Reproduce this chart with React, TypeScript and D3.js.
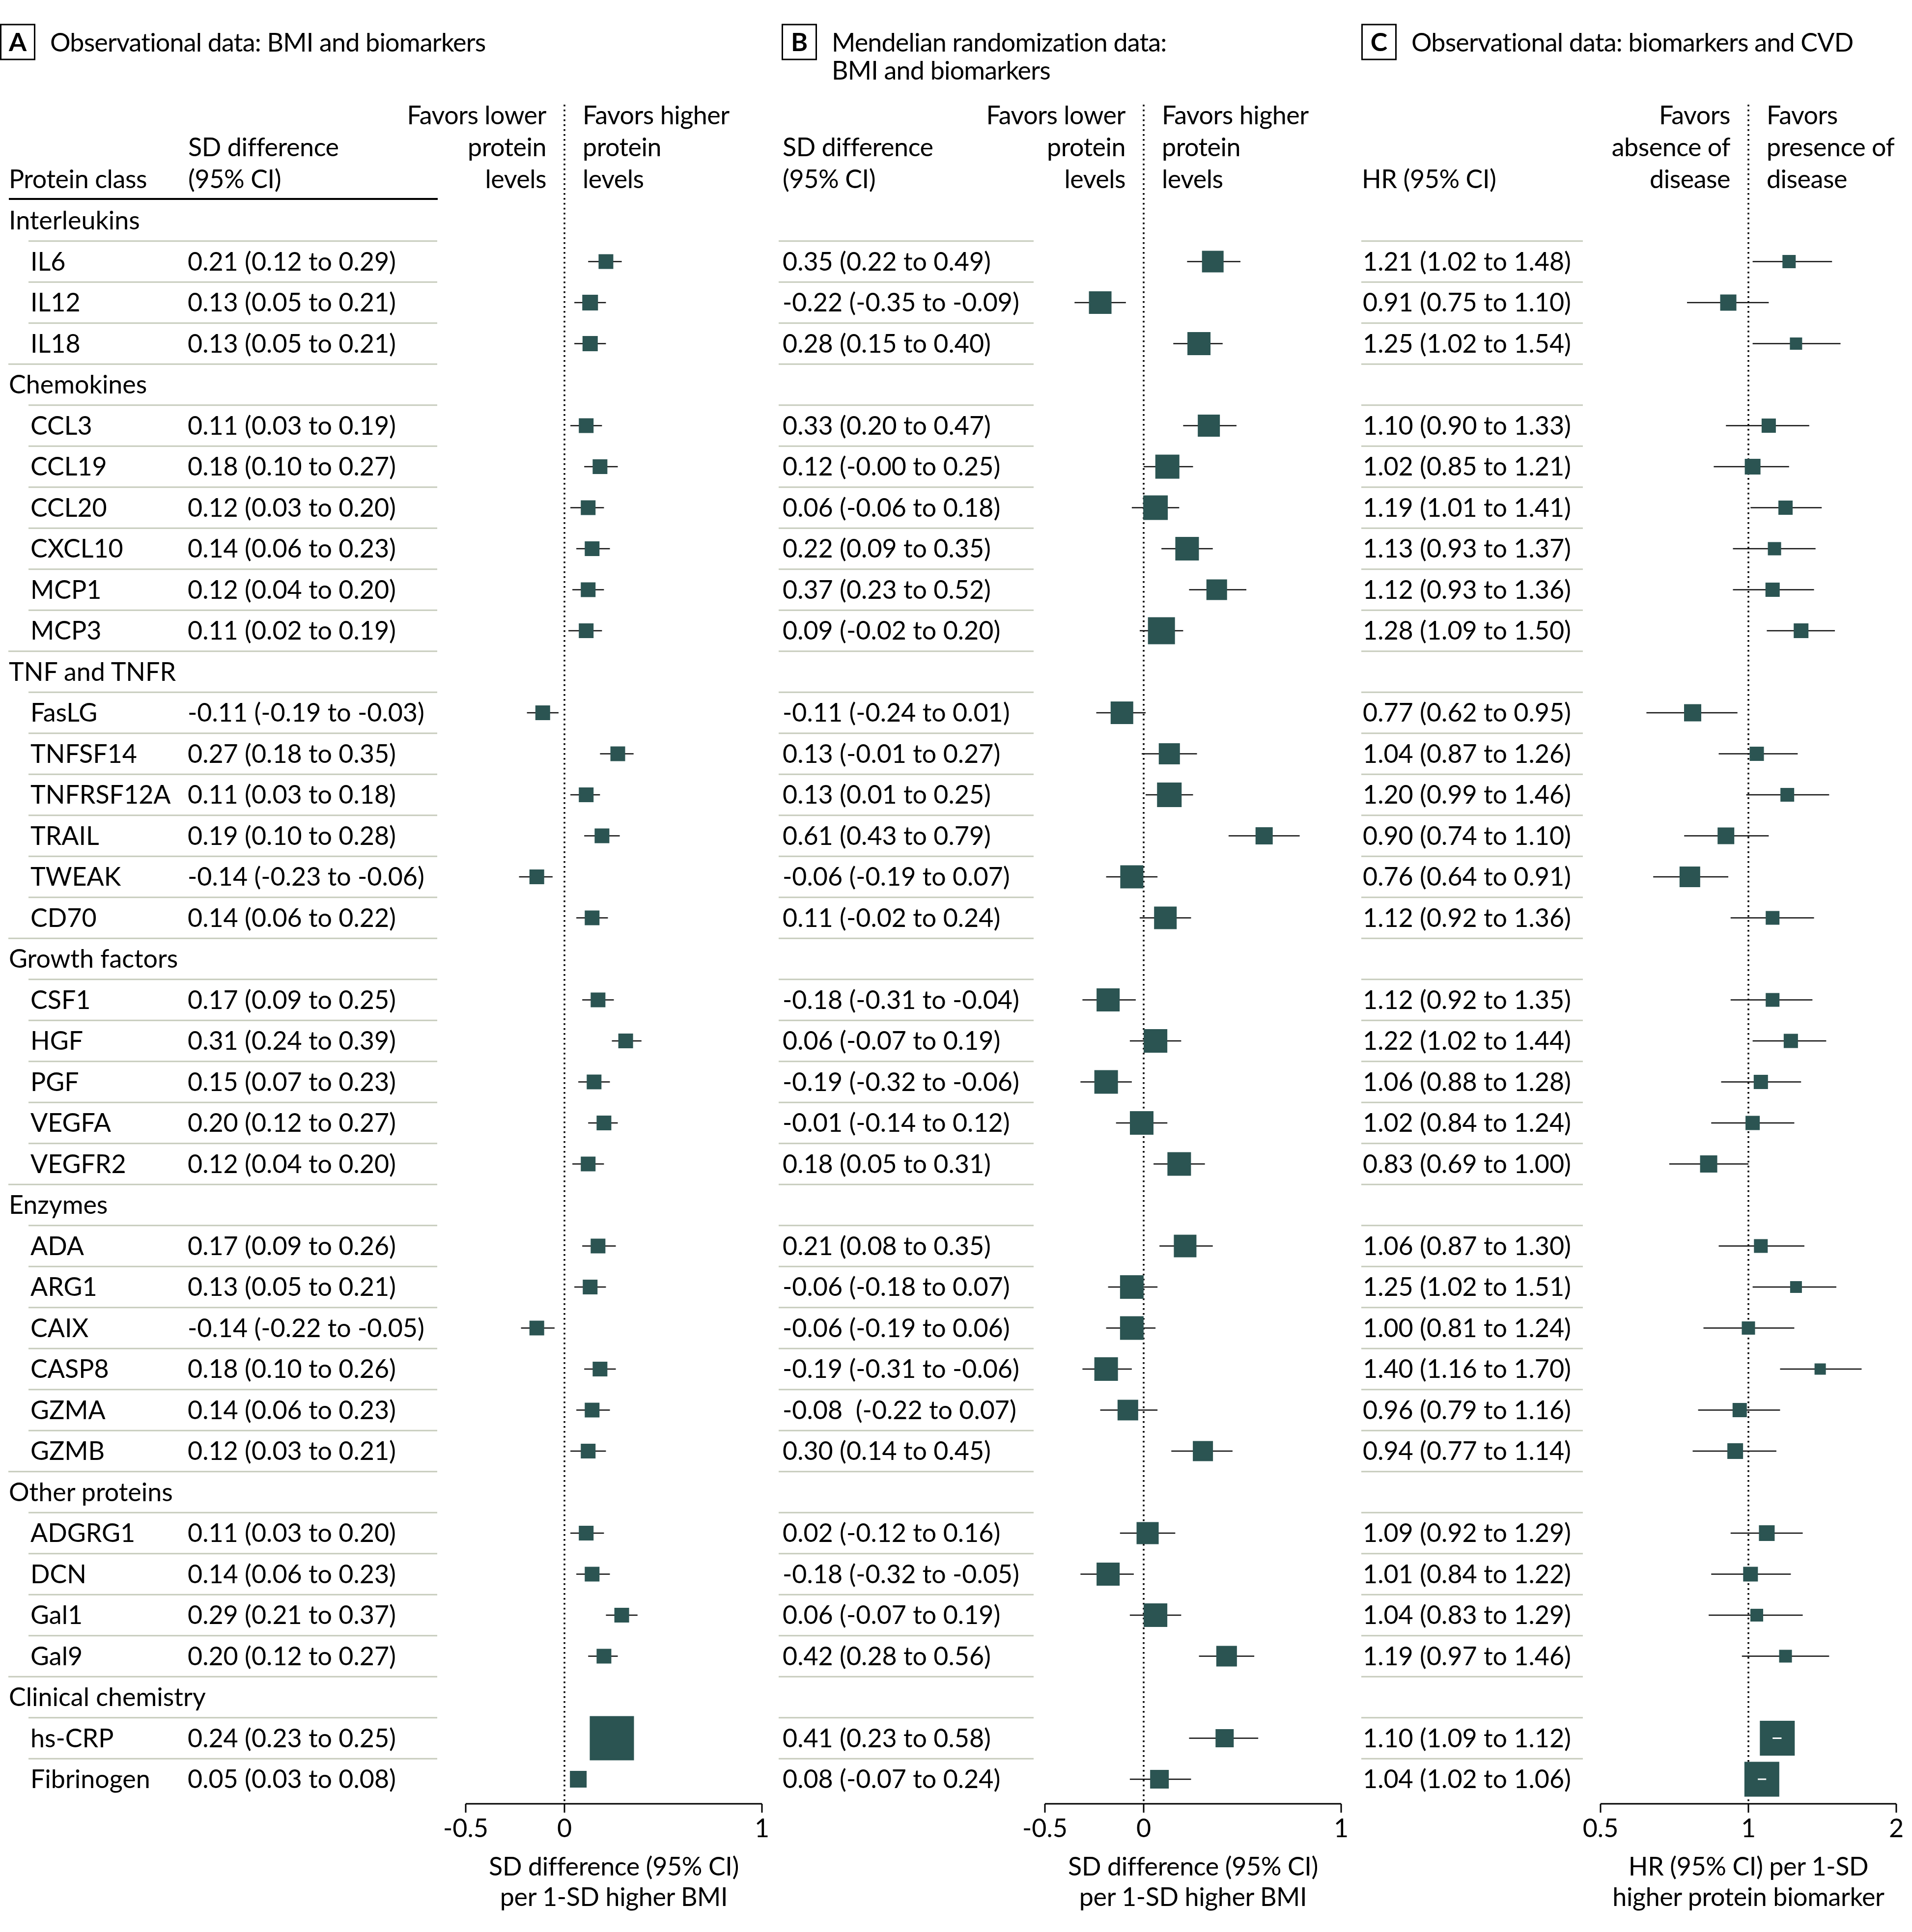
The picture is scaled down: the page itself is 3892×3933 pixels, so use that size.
import React from "react";
import * as d3 from "d3";

// ---------- DATA ----------
const groupNames = ["Interleukins", "Chemokines", "TNF and TNFR", "Growth factors", "Enzymes", "Other proteins", "Clinical chemistry"];

const proteins = ["IL6", "IL12", "IL18", "CCL3", "CCL19", "CCL20", "CXCL10", "MCP1", "MCP3", "FasLG", "TNFSF14", "TNFRSF12A", "TRAIL", "TWEAK", "CD70", "CSF1", "HGF", "PGF", "VEGFA", "VEGFR2", "ADA", "ARG1", "CAIX", "CASP8", "GZMA", "GZMB", "ADGRG1", "DCN", "Gal1", "Gal9", "hs-CRP", "Fibrinogen"];
const proteinGroup = [0, 0, 0, 1, 1, 1, 1, 1, 1, 2, 2, 2, 2, 2, 2, 3, 3, 3, 3, 3, 4, 4, 4, 4, 4, 4, 5, 5, 5, 5, 6, 6];

// Panel A: observational BMI -> biomarkers (SD difference)
const labelA = ["0.21 (0.12 to 0.29)", "0.13 (0.05 to 0.21)", "0.13 (0.05 to 0.21)", "0.11 (0.03 to 0.19)", "0.18 (0.10 to 0.27)", "0.12 (0.03 to 0.20)", "0.14 (0.06 to 0.23)", "0.12 (0.04 to 0.20)", "0.11 (0.02 to 0.19)", "-0.11 (-0.19 to -0.03)", "0.27 (0.18 to 0.35)", "0.11 (0.03 to 0.18)", "0.19 (0.10 to 0.28)", "-0.14 (-0.23 to -0.06)", "0.14 (0.06 to 0.22)", "0.17 (0.09 to 0.25)", "0.31 (0.24 to 0.39)", "0.15 (0.07 to 0.23)", "0.20 (0.12 to 0.27)", "0.12 (0.04 to 0.20)", "0.17 (0.09 to 0.26)", "0.13 (0.05 to 0.21)", "-0.14 (-0.22 to -0.05)", "0.18 (0.10 to 0.26)", "0.14 (0.06 to 0.23)", "0.12 (0.03 to 0.21)", "0.11 (0.03 to 0.20)", "0.14 (0.06 to 0.23)", "0.29 (0.21 to 0.37)", "0.20 (0.12 to 0.27)", "0.24 (0.23 to 0.25)", "0.05 (0.03 to 0.08)"];
const estA = [0.21, 0.13, 0.13, 0.11, 0.18, 0.12, 0.14, 0.12, 0.11, -0.11, 0.27, 0.11, 0.19, -0.14, 0.14, 0.17, 0.31, 0.15, 0.20, 0.12, 0.17, 0.13, -0.14, 0.18, 0.14, 0.12, 0.11, 0.14, 0.29, 0.20, 0.24, 0.07];
const loA = [0.12, 0.05, 0.05, 0.03, 0.10, 0.03, 0.06, 0.04, 0.02, -0.19, 0.18, 0.03, 0.10, -0.23, 0.06, 0.09, 0.24, 0.07, 0.12, 0.04, 0.09, 0.05, -0.22, 0.10, 0.06, 0.03, 0.03, 0.06, 0.21, 0.12, 0.23, 0.03];
const hiA = [0.29, 0.21, 0.21, 0.19, 0.27, 0.20, 0.23, 0.20, 0.19, -0.03, 0.35, 0.18, 0.28, -0.06, 0.22, 0.25, 0.39, 0.23, 0.27, 0.20, 0.26, 0.21, -0.05, 0.26, 0.23, 0.21, 0.20, 0.23, 0.37, 0.27, 0.25, 0.08];
const weightA = [3.0, 3.2, 3.1, 3.0, 3.0, 3.0, 3.0, 3.0, 3.0, 3.0, 3.0, 3.0, 3.0, 3.0, 3.0, 3.0, 3.0, 3.0, 3.0, 3.0, 3.0, 3.0, 3.0, 3.0, 3.0, 3.0, 3.0, 3.0, 3.0, 3.0, 9.0, 3.4];

// Panel B: Mendelian randomization BMI -> biomarkers
const labelB = ["0.35 (0.22 to 0.49)", "-0.22 (-0.35 to -0.09)", "0.28 (0.15 to 0.40)", "0.33 (0.20 to 0.47)", "0.12 (-0.00 to 0.25)", "0.06 (-0.06 to 0.18)", "0.22 (0.09 to 0.35)", "0.37 (0.23 to 0.52)", "0.09 (-0.02 to 0.20)", "-0.11 (-0.24 to 0.01)", "0.13 (-0.01 to 0.27)", "0.13 (0.01 to 0.25)", "0.61 (0.43 to 0.79)", "-0.06 (-0.19 to 0.07)", "0.11 (-0.02 to 0.24)", "-0.18 (-0.31 to -0.04)", "0.06 (-0.07 to 0.19)", "-0.19 (-0.32 to -0.06)", "-0.01 (-0.14 to 0.12)", "0.18 (0.05 to 0.31)", "0.21 (0.08 to 0.35)", "-0.06 (-0.18 to 0.07)", "-0.06 (-0.19 to 0.06)", "-0.19 (-0.31 to -0.06)", "-0.08  (-0.22 to 0.07)", "0.30 (0.14 to 0.45)", "0.02 (-0.12 to 0.16)", "-0.18 (-0.32 to -0.05)", "0.06 (-0.07 to 0.19)", "0.42 (0.28 to 0.56)", "0.41 (0.23 to 0.58)", "0.08 (-0.07 to 0.24)"];
const estB = [0.35, -0.22, 0.28, 0.33, 0.12, 0.06, 0.22, 0.37, 0.09, -0.11, 0.13, 0.13, 0.61, -0.06, 0.11, -0.18, 0.06, -0.19, -0.01, 0.18, 0.21, -0.06, -0.06, -0.19, -0.08, 0.30, 0.02, -0.18, 0.06, 0.42, 0.41, 0.08];
const loB = [0.22, -0.35, 0.15, 0.20, -0.00, -0.06, 0.09, 0.23, -0.02, -0.24, -0.01, 0.01, 0.43, -0.19, -0.02, -0.31, -0.07, -0.32, -0.14, 0.05, 0.08, -0.18, -0.19, -0.31, -0.22, 0.14, -0.12, -0.32, -0.07, 0.28, 0.23, -0.07];
const hiB = [0.49, -0.09, 0.40, 0.47, 0.25, 0.18, 0.35, 0.52, 0.20, 0.01, 0.27, 0.25, 0.79, 0.07, 0.24, -0.04, 0.19, -0.06, 0.12, 0.31, 0.35, 0.07, 0.06, -0.06, 0.07, 0.45, 0.16, -0.05, 0.19, 0.56, 0.58, 0.24];
const weightB = [4.4, 4.6, 4.7, 4.5, 4.9, 5.0, 4.8, 4.2, 5.5, 4.6, 4.3, 5.0, 3.5, 4.7, 4.6, 4.7, 4.8, 4.8, 4.8, 4.8, 4.6, 4.8, 4.8, 4.8, 4.2, 4.1, 4.5, 4.7, 4.8, 4.2, 3.7, 3.8];

// Panel C: observational biomarkers -> CVD (HR)
const labelC = ["1.21 (1.02 to 1.48)", "0.91 (0.75 to 1.10)", "1.25 (1.02 to 1.54)", "1.10 (0.90 to 1.33)", "1.02 (0.85 to 1.21)", "1.19 (1.01 to 1.41)", "1.13 (0.93 to 1.37)", "1.12 (0.93 to 1.36)", "1.28 (1.09 to 1.50)", "0.77 (0.62 to 0.95)", "1.04 (0.87 to 1.26)", "1.20 (0.99 to 1.46)", "0.90 (0.74 to 1.10)", "0.76 (0.64 to 0.91)", "1.12 (0.92 to 1.36)", "1.12 (0.92 to 1.35)", "1.22 (1.02 to 1.44)", "1.06 (0.88 to 1.28)", "1.02 (0.84 to 1.24)", "0.83 (0.69 to 1.00)", "1.06 (0.87 to 1.30)", "1.25 (1.02 to 1.51)", "1.00 (0.81 to 1.24)", "1.40 (1.16 to 1.70)", "0.96 (0.79 to 1.16)", "0.94 (0.77 to 1.14)", "1.09 (0.92 to 1.29)", "1.01 (0.84 to 1.22)", "1.04 (0.83 to 1.29)", "1.19 (0.97 to 1.46)", "1.10 (1.09 to 1.12)", "1.04 (1.02 to 1.06)"];
const estC = [1.21, 0.91, 1.25, 1.10, 1.02, 1.19, 1.13, 1.12, 1.28, 0.77, 1.04, 1.20, 0.90, 0.76, 1.12, 1.12, 1.22, 1.06, 1.02, 0.83, 1.06, 1.25, 1.00, 1.40, 0.96, 0.94, 1.09, 1.01, 1.04, 1.19, 1.145, 1.065];
const loC = [1.02, 0.75, 1.02, 0.90, 0.85, 1.01, 0.93, 0.93, 1.09, 0.62, 0.87, 0.99, 0.74, 0.64, 0.92, 0.92, 1.02, 0.88, 0.84, 0.69, 0.87, 1.02, 0.81, 1.16, 0.79, 0.77, 0.92, 0.84, 0.83, 0.97, 1.12, 1.045];
const hiC = [1.48, 1.10, 1.54, 1.33, 1.21, 1.41, 1.37, 1.36, 1.50, 0.95, 1.26, 1.46, 1.10, 0.91, 1.36, 1.35, 1.44, 1.28, 1.24, 1.00, 1.30, 1.51, 1.24, 1.70, 1.16, 1.14, 1.29, 1.22, 1.29, 1.46, 1.168, 1.087];
const weightC = [2.7, 3.3, 2.5, 2.9, 3.2, 2.9, 2.7, 2.9, 3.0, 3.5, 2.9, 2.8, 3.4, 4.2, 2.8, 2.8, 2.9, 2.9, 2.9, 3.5, 2.8, 2.4, 2.7, 2.3, 2.9, 3.2, 3.2, 3.0, 2.6, 2.6, 7.1, 7.1];

const ticksSD = [-0.5, 0, 1];
const ticksHR = [0.5, 1, 2];

// ---------- STYLE ----------
const FONT = "Lato, Roboto, 'Liberation Sans', sans-serif";
const FS = 52;
const BOX = "#2b5452";
const RULE = "#c7ccbd";

type Row = { kind: "cat" | "item"; name: string; idx: number };

function buildRows(): Row[] {
  const rows: Row[] = [];
  groupNames.forEach((g, gi) => {
    rows.push({ kind: "cat", name: g, idx: -1 });
    proteins.forEach((p, pi) => {
      if (proteinGroup[pi] === gi) rows.push({ kind: "item", name: p, idx: pi });
    });
  });
  return rows;
}

export default function App() {
  const rows = buildRows();
  const yRow = d3.scaleLinear().domain([0, rows.length - 1]).range([449, 3622]);
  const step = yRow(1) - yRow(0);
  const side = d3.scaleLinear().domain([0, 10]).range([0, 100]);

  const xA = d3.scaleLinear().domain([-0.5, 1]).range([948, 1551]);
  const xB = d3.scaleLinear().domain([-0.5, 1]).range([2127, 2730]);
  const xC = d3.scaleLog().domain([0.5, 2]).range([3258, 3860]);

  const axisY = 3672;
  const dotTop = 213;

  const panels = [
    {
      key: "A", x: xA, ref: 0, ticks: ticksSD, est: estA, lo: loA, hi: hiA, w: weightA, labels: labelA,
      textX: 382, ruleX0: 58, ruleCatX0: 17, ruleX1: 890, whiteInner: false,
      left: ["Favors lower", "protein", "levels"], right: ["Favors higher", "protein", "levels"],
      axisTitle: ["SD difference (95% CI)", "per 1-SD higher BMI"],
      boxX: 0, title: ["Observational data: BMI and biomarkers"],
    },
    {
      key: "B", x: xB, ref: 0, ticks: ticksSD, est: estB, lo: loB, hi: hiB, w: weightB, labels: labelB,
      textX: 1593, ruleX0: 1585, ruleCatX0: 1585, ruleX1: 2104, whiteInner: false,
      left: ["Favors lower", "protein", "levels"], right: ["Favors higher", "protein", "levels"],
      axisTitle: ["SD difference (95% CI)", "per 1-SD higher BMI"],
      boxX: 1591, title: ["Mendelian randomization data:", "BMI and biomarkers"],
    },
    {
      key: "C", x: xC, ref: 1, ticks: ticksHR, est: estC, lo: loC, hi: hiC, w: weightC, labels: labelC,
      textX: 2774, ruleX0: 2771, ruleCatX0: 2771, ruleX1: 3222, whiteInner: true,
      left: ["Favors", "absence of", "disease"], right: ["Favors", "presence of", "disease"],
      axisTitle: ["HR (95% CI) per 1-SD", "higher protein biomarker"],
      boxX: 2771, title: ["Observational data: biomarkers and CVD"],
    },
  ];

  const headBase = [253, 318, 383];
  const textStyle: React.CSSProperties = { whiteSpace: "pre" };

  return (
    <svg width={3892} height={3933} viewBox="0 0 3892 3933"
      style={{ position: "absolute", left: 0, top: 0, background: "#fff" }}
      fontFamily={FONT} fontSize={FS} fill="#000">
      <rect x={0} y={0} width={3892} height={3933} fill="#fff" />

      {/* Column headers for text tables */}
      <g letterSpacing={-0.4}>
        <text x={18} y={headBase[2]}>Protein class</text>
        <text x={383} y={headBase[1]}>SD difference</text>
        <text x={383} y={headBase[2]}>(95% CI)</text>
        <text x={1593} y={headBase[1]}>SD difference</text>
        <text x={1593} y={headBase[2]}>(95% CI)</text>
        <text x={2772} y={headBase[2]}>HR (95% CI)</text>
      </g>
      <line x1={18} x2={891} y1={405} y2={405} stroke="#000" strokeWidth={4} />

      {panels.map((p) => {
        const x0 = p.x(p.ref);
        const [d0, d1] = p.x.range();
        const cx = (d0 + d1) / 2;
        return (
          <g key={p.key}>
            {/* title box */}
            <rect x={p.boxX + 1.5} y={50} width={69} height={71} fill="none" stroke="#000" strokeWidth={3} />
            <text x={p.boxX + 36} y={104} textAnchor="middle" fontWeight="bold">{p.key}</text>
            {p.title.map((t, i) => (
              <text key={i} x={p.boxX + 102} y={105 + i * 57} letterSpacing={-0.8}>{t}</text>
            ))}

            {/* favors headers */}
            <g letterSpacing={-0.5}>
              {p.left.map((t, i) => (
                <text key={"l" + i} x={x0 - 37} y={headBase[i]} textAnchor="end">{t}</text>
              ))}
              {p.right.map((t, i) => (
                <text key={"r" + i} x={x0 + 37} y={headBase[i]}>{t}</text>
              ))}
            </g>

            {/* row rules */}
            {rows.map((r, ri) => ri === 0 ? null : (
              <line key={"rule" + ri}
                x1={r.kind === "cat" ? p.ruleCatX0 : p.ruleX0} x2={p.ruleX1}
                y1={yRow(ri) - step / 2} y2={yRow(ri) - step / 2}
                stroke={RULE} strokeWidth={3} />
            ))}

            {/* reference dotted line */}
            <line x1={x0} x2={x0} y1={dotTop} y2={axisY} stroke="#000" strokeWidth={3.5} strokeDasharray="3.5 6.5" />

            {/* rows */}
            {rows.map((r, ri) => {
              const y = yRow(ri);
              if (r.kind === "cat") {
                return p.key === "A" ? (
                  <text key={"c" + ri} x={18} y={y + 18}>{r.name}</text>
                ) : null;
              }
              const i = r.idx;
              const s = side(p.w[i]);
              const xe = p.x(p.est[i]);
              const xl = p.x(p.lo[i]);
              const xh = p.x(p.hi[i]);
              const inside = xl >= xe - s / 2 && xh <= xe + s / 2;
              return (
                <g key={"r" + ri}>
                  {p.key === "A" && <text x={62} y={y + 18}>{r.name}</text>}
                  <text x={p.textX} y={y + 18} style={textStyle}>{p.labels[i]}</text>
                  <line x1={xl} x2={xh} y1={y} y2={y} stroke="#111" strokeWidth={2.5} />
                  <rect x={xe - s / 2} y={y - s / 2} width={s} height={s} fill={BOX} />
                  {inside && p.whiteInner && (
                    <line x1={xl} x2={xh} y1={y} y2={y} stroke="#fff" strokeWidth={3} />
                  )}
                </g>
              );
            })}

            {/* axis */}
            <line x1={d0} x2={d1} y1={axisY} y2={axisY} stroke="#000" strokeWidth={3} />
            {p.ticks.map((t) => (
              <g key={"t" + t}>
                <line x1={p.x(t)} x2={p.x(t)} y1={axisY} y2={axisY + 18} stroke="#000" strokeWidth={3} />
                <text x={p.x(t)} y={3740} textAnchor="middle">{String(t)}</text>
              </g>
            ))}
            {p.axisTitle.map((t, i) => (
              <text key={"at" + i} x={cx} y={3818 + i * 62} textAnchor="middle" letterSpacing={-0.4}>{t}</text>
            ))}
          </g>
        );
      })}
    </svg>
  );
}
